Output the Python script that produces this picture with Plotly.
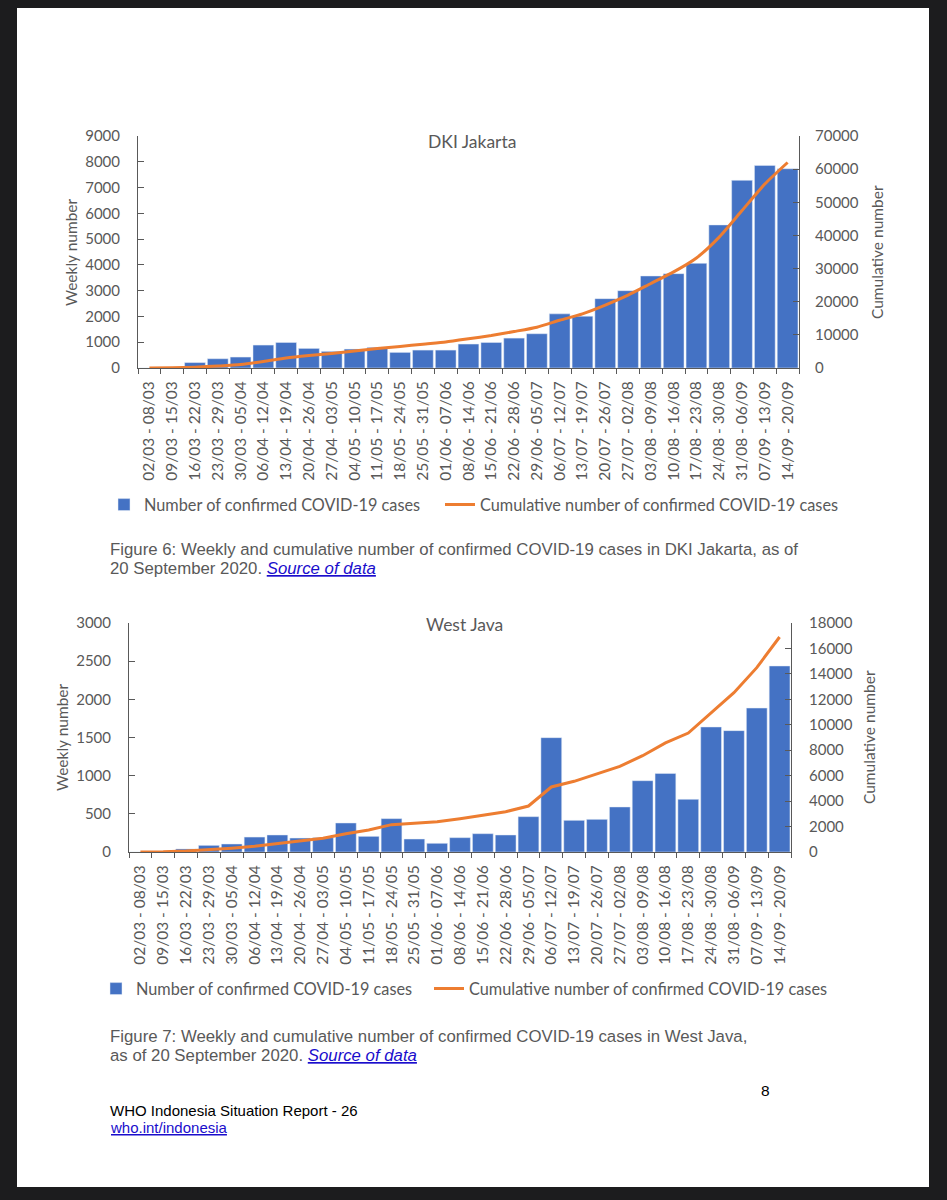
import plotly.graph_objects as go

W, H = 947, 1200

weeks = ["02/03 - 08/03", "09/03 - 15/03", "16/03 - 22/03", "23/03 - 29/03", "30/03 - 05/04",
         "06/04 - 12/04", "13/04 - 19/04", "20/04 - 26/04", "27/04 - 03/05", "04/05 - 10/05",
         "11/05 - 17/05", "18/05 - 24/05", "25/05 - 31/05", "01/06 - 07/06", "08/06 - 14/06",
         "15/06 - 21/06", "22/06 - 28/06", "29/06 - 05/07", "06/07 - 12/07", "13/07 - 19/07",
         "20/07 - 26/07", "27/07 - 02/08", "03/08 - 09/08", "10/08 - 16/08", "17/08 - 23/08",
         "24/08 - 30/08", "31/08 - 06/09", "07/09 - 13/09", "14/09 - 20/09"]

jakarta_weekly = [0, 10, 210, 360, 425, 890, 990, 760, 645, 735, 800, 605, 695, 695, 930,
                  990, 1160, 1330, 2100, 2010, 2690, 3000, 3570, 3660, 4060, 5550, 7280, 7860, 7730]
jakarta_cumulative = [0, 40, 250, 600, 1050, 1950, 3000, 3750, 4400, 5100, 5900, 6500, 7200, 7850,
                      8800, 9800, 11000, 12300, 14400, 16350, 19000, 22000, 25500, 29000, 33200,
                      39500, 47500, 55500, 62000]

westjava_weekly = [0, 5, 40, 87, 105, 196, 223, 183, 188, 380, 205, 437, 170, 114, 188,
                   240, 223, 463, 1498, 415, 428, 590, 934, 1030, 690, 1638, 1590, 1886, 2437]
westjava_cumulative = [0, 10, 80, 180, 300, 445, 655, 840, 1075, 1440, 1730, 2150, 2280, 2385,
                       2620, 2900, 3170, 3615, 5110, 5555, 6155, 6730, 7570, 8570, 9350,
                       10925, 12520, 14490, 16900]

BLUE = "#4472C4"
ORANGE = "#ED7D31"
GREY = "#595959"
AXIS = "#595959"
LINK = "#1a0dcc"
FONT = "Lato"
CAPFONT = "Liberation Sans"


def px_x(x):
    return x / W


def px_y(y):
    return 1 - y / H


fig = go.Figure()

fig.add_trace(go.Bar(x=weeks, y=jakarta_weekly, marker_color=BLUE, xaxis="x", yaxis="y",
                     name="Number of confirmed COVID-19 cases", legend="legend", showlegend=True))
fig.add_trace(go.Scatter(x=weeks, y=jakarta_cumulative, mode="lines", xaxis="x", yaxis="y2",
                         line=dict(color=ORANGE, width=3, shape="spline", smoothing=0.6),
                         name="Cumulative number of confirmed COVID-19 cases", legend="legend2",
                         showlegend=True))
fig.add_trace(go.Bar(x=weeks, y=westjava_weekly, marker_color=BLUE, xaxis="x2", yaxis="y3",
                     name="Number of confirmed COVID-19 cases", legend="legend3", showlegend=True))
fig.add_trace(go.Scatter(x=weeks, y=westjava_cumulative, mode="lines", xaxis="x2", yaxis="y4",
                         line=dict(color=ORANGE, width=3),
                         name="Cumulative number of confirmed COVID-19 cases", legend="legend4",
                         showlegend=True))

common_x = dict(type="category", tickangle=-90, tickson="boundaries", ticks="outside", ticklen=5,
                tickcolor=AXIS, showline=True, linecolor=AXIS, linewidth=1, showgrid=False,
                zeroline=False, tickfont=dict(family=FONT, size=15.5, color=GREY),
                ticklabelstandoff=6, fixedrange=True)
common_y = dict(ticks="inside", ticklen=6, tickcolor=AXIS, showline=True, linecolor=AXIS,
                linewidth=1, showgrid=False, zeroline=False, tickformat="d",
                tickfont=dict(family=FONT, size=15, color=GREY), fixedrange=True)

legend_common = dict(orientation="h", xanchor="left", yanchor="middle", bgcolor="rgba(0,0,0,0)",
                     font=dict(family=FONT, size=16.3, color=GREY), itemwidth=30, borderwidth=0)

fig.update_layout(
    width=W, height=H,
    margin=dict(l=0, r=0, t=0, b=0, autoexpand=False),
    paper_bgcolor="#1c1c1e",
    plot_bgcolor="white",
    showlegend=True,
    bargap=0.09,
    xaxis=dict(common_x, domain=[px_x(138), px_x(799)], anchor="y"),
    yaxis=dict(common_y, domain=[px_y(368), px_y(136)], range=[0, 9000], dtick=1000,
               anchor="x", ticklabelstandoff=14),
    yaxis2=dict(common_y, overlaying="y", side="right", range=[0, 70000], dtick=10000,
                anchor="x", ticklabelstandoff=12),
    xaxis2=dict(common_x, domain=[px_x(129), px_x(791)], anchor="y3"),
    yaxis3=dict(common_y, domain=[px_y(852), px_y(623)], range=[0, 3000], dtick=500,
                anchor="x2", ticklabelstandoff=14),
    yaxis4=dict(common_y, overlaying="y3", side="right", range=[0, 18000], dtick=2000,
                anchor="x2", ticklabelstandoff=14),
    legend=dict(legend_common, x=px_x(104), y=px_y(505)),
    legend2=dict(legend_common, x=px_x(440), y=px_y(505)),
    legend3=dict(legend_common, x=px_x(96), y=px_y(989)),
    legend4=dict(legend_common, x=px_x(429), y=px_y(989)),
    shapes=[dict(type="rect", xref="paper", yref="paper", x0=px_x(17), x1=px_x(929),
                 y0=px_y(1187), y1=px_y(8), fillcolor="white", line=dict(width=0), layer="below")],
)

ann = []


def text_at(txt, x, y, size, color, family, xanchor="center", angle=0):
    ann.append(dict(text=txt, x=px_x(x), y=px_y(y), xref="paper", yref="paper",
                    xanchor=xanchor, yanchor="middle", textangle=angle, showarrow=False,
                    font=dict(family=family, size=size, color=color)))


# chart titles
text_at("DKI Jakarta", 472, 142, 17.5, GREY, FONT)
text_at("West Java", 464, 624, 17.5, GREY, FONT)
# axis titles
text_at("Weekly number", 71, 252, 15.5, GREY, FONT, angle=-90)
text_at("Cumulative number", 877, 252, 15.5, GREY, FONT, angle=-90)
text_at("Weekly number", 62, 737, 15.5, GREY, FONT, angle=-90)
text_at("Cumulative number", 869, 737, 15.5, GREY, FONT, angle=-90)
# captions
link = "<span style='color:%s'><i><u>Source of data</u></i></span>" % LINK
text_at("Figure 6: Weekly and cumulative number of confirmed COVID-19 cases in DKI Jakarta, as of",
        108, 549, 16.8, GREY, CAPFONT, xanchor="left")
text_at("20 September 2020. " + link, 108, 568, 16.8, GREY, CAPFONT, xanchor="left")
text_at("Figure 7: Weekly and cumulative number of confirmed COVID-19 cases in West Java,",
        108, 1036, 16.8, GREY, CAPFONT, xanchor="left")
text_at("as of 20 September 2020. " + link, 108, 1055, 16.8, GREY, CAPFONT, xanchor="left")
# footer
text_at("8", 765, 1090, 15.5, "black", CAPFONT)
text_at("WHO Indonesia Situation Report - 26", 108, 1110, 15, "black", CAPFONT, xanchor="left")
text_at("<span style='color:%s'><u>who.int/indonesia</u></span>" % LINK, 108, 1127, 15, "black",
        CAPFONT, xanchor="left")

fig.update_layout(annotations=ann)

fig.write_html("out.html", config={"displayModeBar": False},
               post_script="document.body.style.margin='0';document.body.style.background='#1c1c1e';")
